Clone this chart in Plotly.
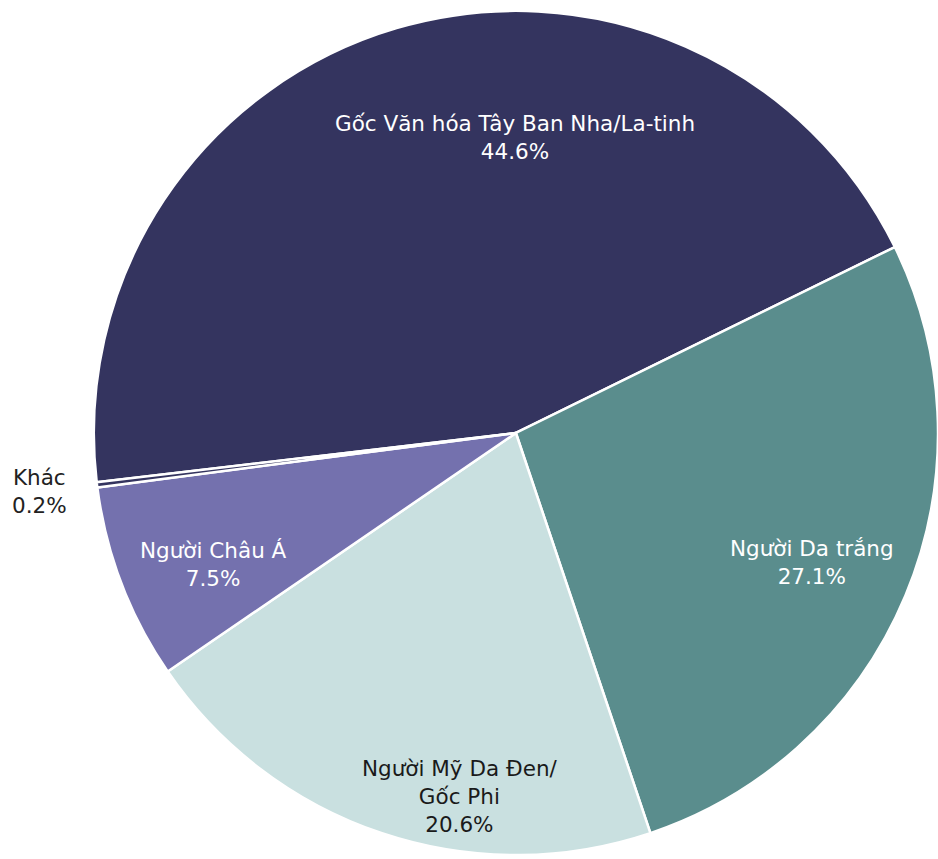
import plotly.graph_objects as go

labels = ["Gốc Văn hóa Tây Ban Nha/La-tinh", "Người Da trắng", "Người Mỹ Da Đen/<br>Gốc Phi", "Người Châu Á", "Khác"]
values = [44.6, 27.1, 20.6, 7.5, 0.2]
colors = ["#34345f", "#5a8d8d", "#c9e0e0", "#7471ae", "#34345f"]
text_colors = ["#ffffff", "#ffffff", "#1a1a1a", "#ffffff", "#222222"]
# label anchor positions (paper coordinates)
label_x = [0.549, 0.8657, 0.4904, 0.2281, 0.0426]
label_y = [0.8405, 0.3446, 0.0722, 0.3423, 0.4284]

FONT = "DejaVu Sans, sans-serif"

fig = go.Figure(go.Pie(
    labels=labels,
    values=values,
    sort=False,
    direction="clockwise",
    rotation=263.3,
    marker=dict(colors=colors, line=dict(color="#ffffff", width=2.5)),
    textinfo="none",
    showlegend=False,
    hoverinfo="label+percent",
    domain=dict(x=[0.1, 1.0], y=[0.0035, 0.9884]),
))

for lab, v, c, x, y in zip(labels, values, text_colors, label_x, label_y):
    fig.add_annotation(
        x=x, y=y, xref="paper", yref="paper",
        text=f"{lab}<br>{v:.1f}%",
        showarrow=False,
        xanchor="center", yanchor="middle",
        align="center",
        font=dict(family=FONT, size=21.5, color=c),
    )

fig.update_layout(
    width=938, height=859,
    margin=dict(l=0, r=0, t=0, b=0),
    paper_bgcolor="#ffffff",
    plot_bgcolor="#ffffff",
)

fig.write_html(
    "out.html",
    config={"displayModeBar": False},
    post_script="document.body.style.margin='0';document.body.style.overflow='hidden';",
)
